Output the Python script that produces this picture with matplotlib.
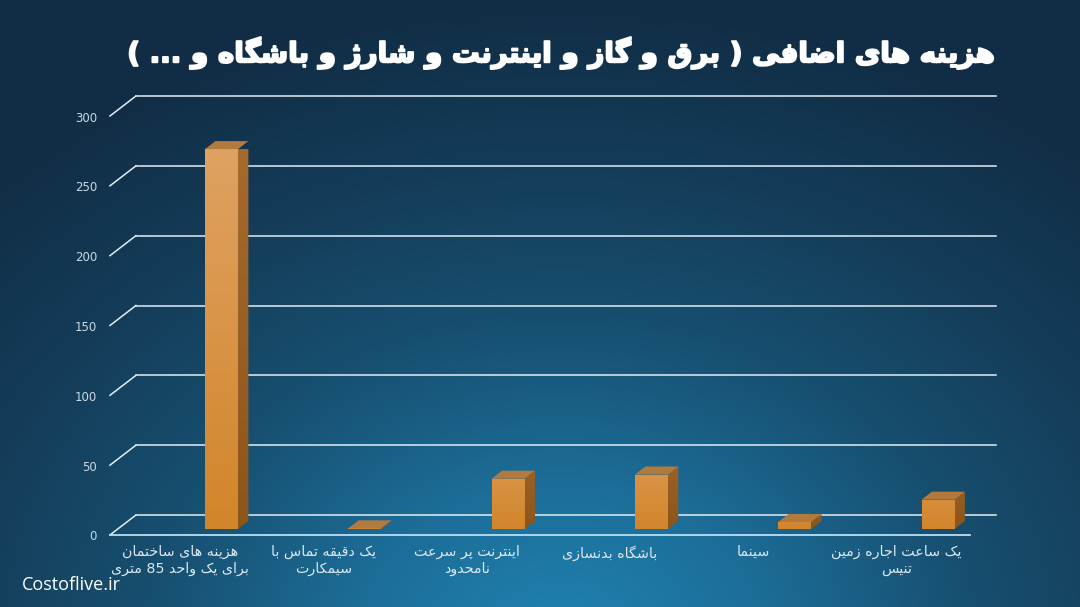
import re
import numpy as np
import matplotlib
matplotlib.use('Agg')
import matplotlib.pyplot as plt
import matplotlib.patheffects as pe
from matplotlib.colors import LinearSegmentedColormap
from matplotlib.patches import Polygon

# data
categories = ["هزینه های ساختمان\nبرای یک واحد 85 متری",
              "یک دقیقه تماس با\nسیمکارت",
              "اینترنت پر سرعت\nنامحدود",
              "باشگاه بدنسازی",
              "سینما",
              "یک ساعت اجاره زمین\nتنیس"]
values = [272, 0.5, 36, 39, 5, 21]
yticks = [0, 50, 100, 150, 200, 250, 300]
title = "هزینه های اضافی ( برق و گاز و اینترنت و شارژ و باشگاه و ... )"
watermark = "Costoflive.ir"

# arabic/persian presentation forms: isolated, final, initial, medial
FORMS = {
    'ا': ('\uFE8D', '\uFE8E', None, None),
    'آ': ('\uFE81', '\uFE82', None, None),
    'ب': ('\uFE8F', '\uFE90', '\uFE91', '\uFE92'),
    'پ': ('\uFB56', '\uFB57', '\uFB58', '\uFB59'),
    'ت': ('\uFE95', '\uFE96', '\uFE97', '\uFE98'),
    'ث': ('\uFE99', '\uFE9A', '\uFE9B', '\uFE9C'),
    'ج': ('\uFE9D', '\uFE9E', '\uFE9F', '\uFEA0'),
    'چ': ('\uFB7A', '\uFB7B', '\uFB7C', '\uFB7D'),
    'ح': ('\uFEA1', '\uFEA2', '\uFEA3', '\uFEA4'),
    'خ': ('\uFEA5', '\uFEA6', '\uFEA7', '\uFEA8'),
    'د': ('\uFEA9', '\uFEAA', None, None),
    'ذ': ('\uFEAB', '\uFEAC', None, None),
    'ر': ('\uFEAD', '\uFEAE', None, None),
    'ز': ('\uFEAF', '\uFEB0', None, None),
    'ژ': ('\uFB8A', '\uFB8B', None, None),
    'س': ('\uFEB1', '\uFEB2', '\uFEB3', '\uFEB4'),
    'ش': ('\uFEB5', '\uFEB6', '\uFEB7', '\uFEB8'),
    'ص': ('\uFEB9', '\uFEBA', '\uFEBB', '\uFEBC'),
    'ض': ('\uFEBD', '\uFEBE', '\uFEBF', '\uFEC0'),
    'ط': ('\uFEC1', '\uFEC2', '\uFEC3', '\uFEC4'),
    'ظ': ('\uFEC5', '\uFEC6', '\uFEC7', '\uFEC8'),
    'ع': ('\uFEC9', '\uFECA', '\uFECB', '\uFECC'),
    'غ': ('\uFECD', '\uFECE', '\uFECF', '\uFED0'),
    'ف': ('\uFED1', '\uFED2', '\uFED3', '\uFED4'),
    'ق': ('\uFED5', '\uFED6', '\uFED7', '\uFED8'),
    'ک': ('\uFB8E', '\uFB8F', '\uFB90', '\uFB91'),
    'گ': ('\uFB92', '\uFB93', '\uFB94', '\uFB95'),
    'ل': ('\uFEDD', '\uFEDE', '\uFEDF', '\uFEE0'),
    'م': ('\uFEE1', '\uFEE2', '\uFEE3', '\uFEE4'),
    'ن': ('\uFEE5', '\uFEE6', '\uFEE7', '\uFEE8'),
    'و': ('\uFEED', '\uFEEE', None, None),
    'ه': ('\uFEE9', '\uFEEA', '\uFEEB', '\uFEEC'),
    'ی': ('\uFBFC', '\uFBFD', '\uFBFE', '\uFBFF'),
}
MIRROR = str.maketrans({'(': ')', ')': '('})


def shape_line(text):
    out = []
    n = len(text)
    for k, c in enumerate(text):
        if c not in FORMS:
            out.append(c)
            continue
        iso, fin, ini, med = FORMS[c]
        prev = text[k - 1] if k > 0 else ''
        nxt = text[k + 1] if k < n - 1 else ''
        jp = prev in FORMS and FORMS[prev][2] is not None
        jn = ini is not None and nxt in FORMS
        if jp and jn:
            out.append(med)
        elif jp:
            out.append(fin)
        elif jn:
            out.append(ini)
        else:
            out.append(iso)
    s = ''.join(out)[::-1].translate(MIRROR)
    return re.sub(r'[0-9A-Za-z]+', lambda m: m.group(0)[::-1], s)


def shape(text):
    return '\n'.join(shape_line(t) for t in text.split('\n'))


W, H = 1080, 607
fig = plt.figure(figsize=(W / 100, H / 100), dpi=100)

# background radial gradient
bg = fig.add_axes([0, 0, 1, 1])
bg.axis('off')
yy, xx = np.mgrid[0:H, 0:W]
r = np.sqrt(((xx - 560) / 820.0) ** 2 + ((yy - 640) / 640.0) ** 2)
cmap_bg = LinearSegmentedColormap.from_list(
    'bg', ['#2082b0', '#1c6d98', '#174f70', '#143c58', '#112d45'])
bg.imshow(np.clip(r, 0, 1), cmap=cmap_bg, vmin=0, vmax=1,
          extent=[0, W, H, 0], aspect='auto')
bg.set_xlim(0, W)
bg.set_ylim(H, 0)

# chart axes, 3d look done with a depth offset
ax = fig.add_axes([0, 0, 1, 1])
ax.patch.set_alpha(0)
ax.axis('off')
px_x = 143.3
px_v = 419 / 300.0
x0_px = 239.7
v0_px = 92.0
ddx = -26 / px_x
ddv = -20 / px_v
wall_l, wall_r = -0.724, 5.278
grid_c = '#e3edf4'

for v in yticks:
    ax.plot([wall_l, wall_r], [v, v], color=grid_c, lw=1.1, zorder=1)
    ax.plot([wall_l + ddx, wall_l], [v + ddv, v], color=grid_c, lw=1.1, zorder=1)
    ax.text(wall_l + ddx - 13 / px_x, v + ddv - 2 / px_v, str(v),
            ha='right', va='center', fontsize=8.5, color='#c9d9e6',
            family='DejaVu Sans')
ax.plot([wall_l + ddx, wall_r + ddx], [ddv, ddv], color='#b9e0f4', lw=1.3,
        zorder=6)

# bars
bw = 33 / px_x
df, db = 0.7, 0.3
front_cmap = LinearSegmentedColormap.from_list('fr', ['#d2852a', '#dfa262'])
side_cmap = LinearSegmentedColormap.from_list('sd', ['#8c5519', '#a46a2e'])
for i, h in enumerate(values):
    xl, xr = i - bw / 2, i + bw / 2
    fx, fv = df * ddx, df * ddv
    bx, bv = db * ddx, db * ddv
    front = [(xl + fx, fv), (xr + fx, fv), (xr + fx, h + fv), (xl + fx, h + fv)]
    side = [(xr + fx, fv), (xr + bx, bv), (xr + bx, h + bv), (xr + fx, h + fv)]
    top = [(xl + fx, h + fv), (xr + fx, h + fv), (xr + bx, h + bv),
           (xl + bx, h + bv)]
    top_v = h + fv + max(0.0, (150 - h) * 0.35)
    for poly, cm in ((front, front_cmap), (side, side_cmap)):
        p = Polygon(poly, closed=True, facecolor='none', edgecolor='none',
                    zorder=3)
        ax.add_patch(p)
        xs = [q[0] for q in poly]
        grad = np.linspace(0, 1, 256).reshape(-1, 1)
        im = ax.imshow(grad, cmap=cm, origin='lower', aspect='auto',
                       extent=[min(xs), max(xs), fv, top_v], zorder=3)
        im.set_clip_path(p)
    ax.add_patch(Polygon(top, closed=True, facecolor='#b27a3c',
                         edgecolor='none', zorder=4))

# category labels on the front edge
for i, lab in enumerate(categories):
    ax.text(i - 0.235 + ddx, ddv - 10 / px_v, shape(lab), ha='center',
            va='top', fontsize=10.3, color='#dde7ef', family='DejaVu Sans',
            linespacing=1.2)

ax.set_xlim(-x0_px / px_x, (W - x0_px) / px_x)
ax.set_ylim(-v0_px / px_v, (H - v0_px) / px_v)

t = fig.text(994 / W, 1 - 53 / H, shape(title), ha='right', va='center',
             fontsize=20, fontweight='bold', color='white', family='DejaVu Sans')
t.set_path_effects([pe.withStroke(linewidth=1.4, foreground='white')])
fig.text(22 / W, 1 - 585 / H, watermark, ha='left', va='center',
         fontsize=13, color='white', family='Open Sans')

plt.savefig('out.png', dpi=100)
